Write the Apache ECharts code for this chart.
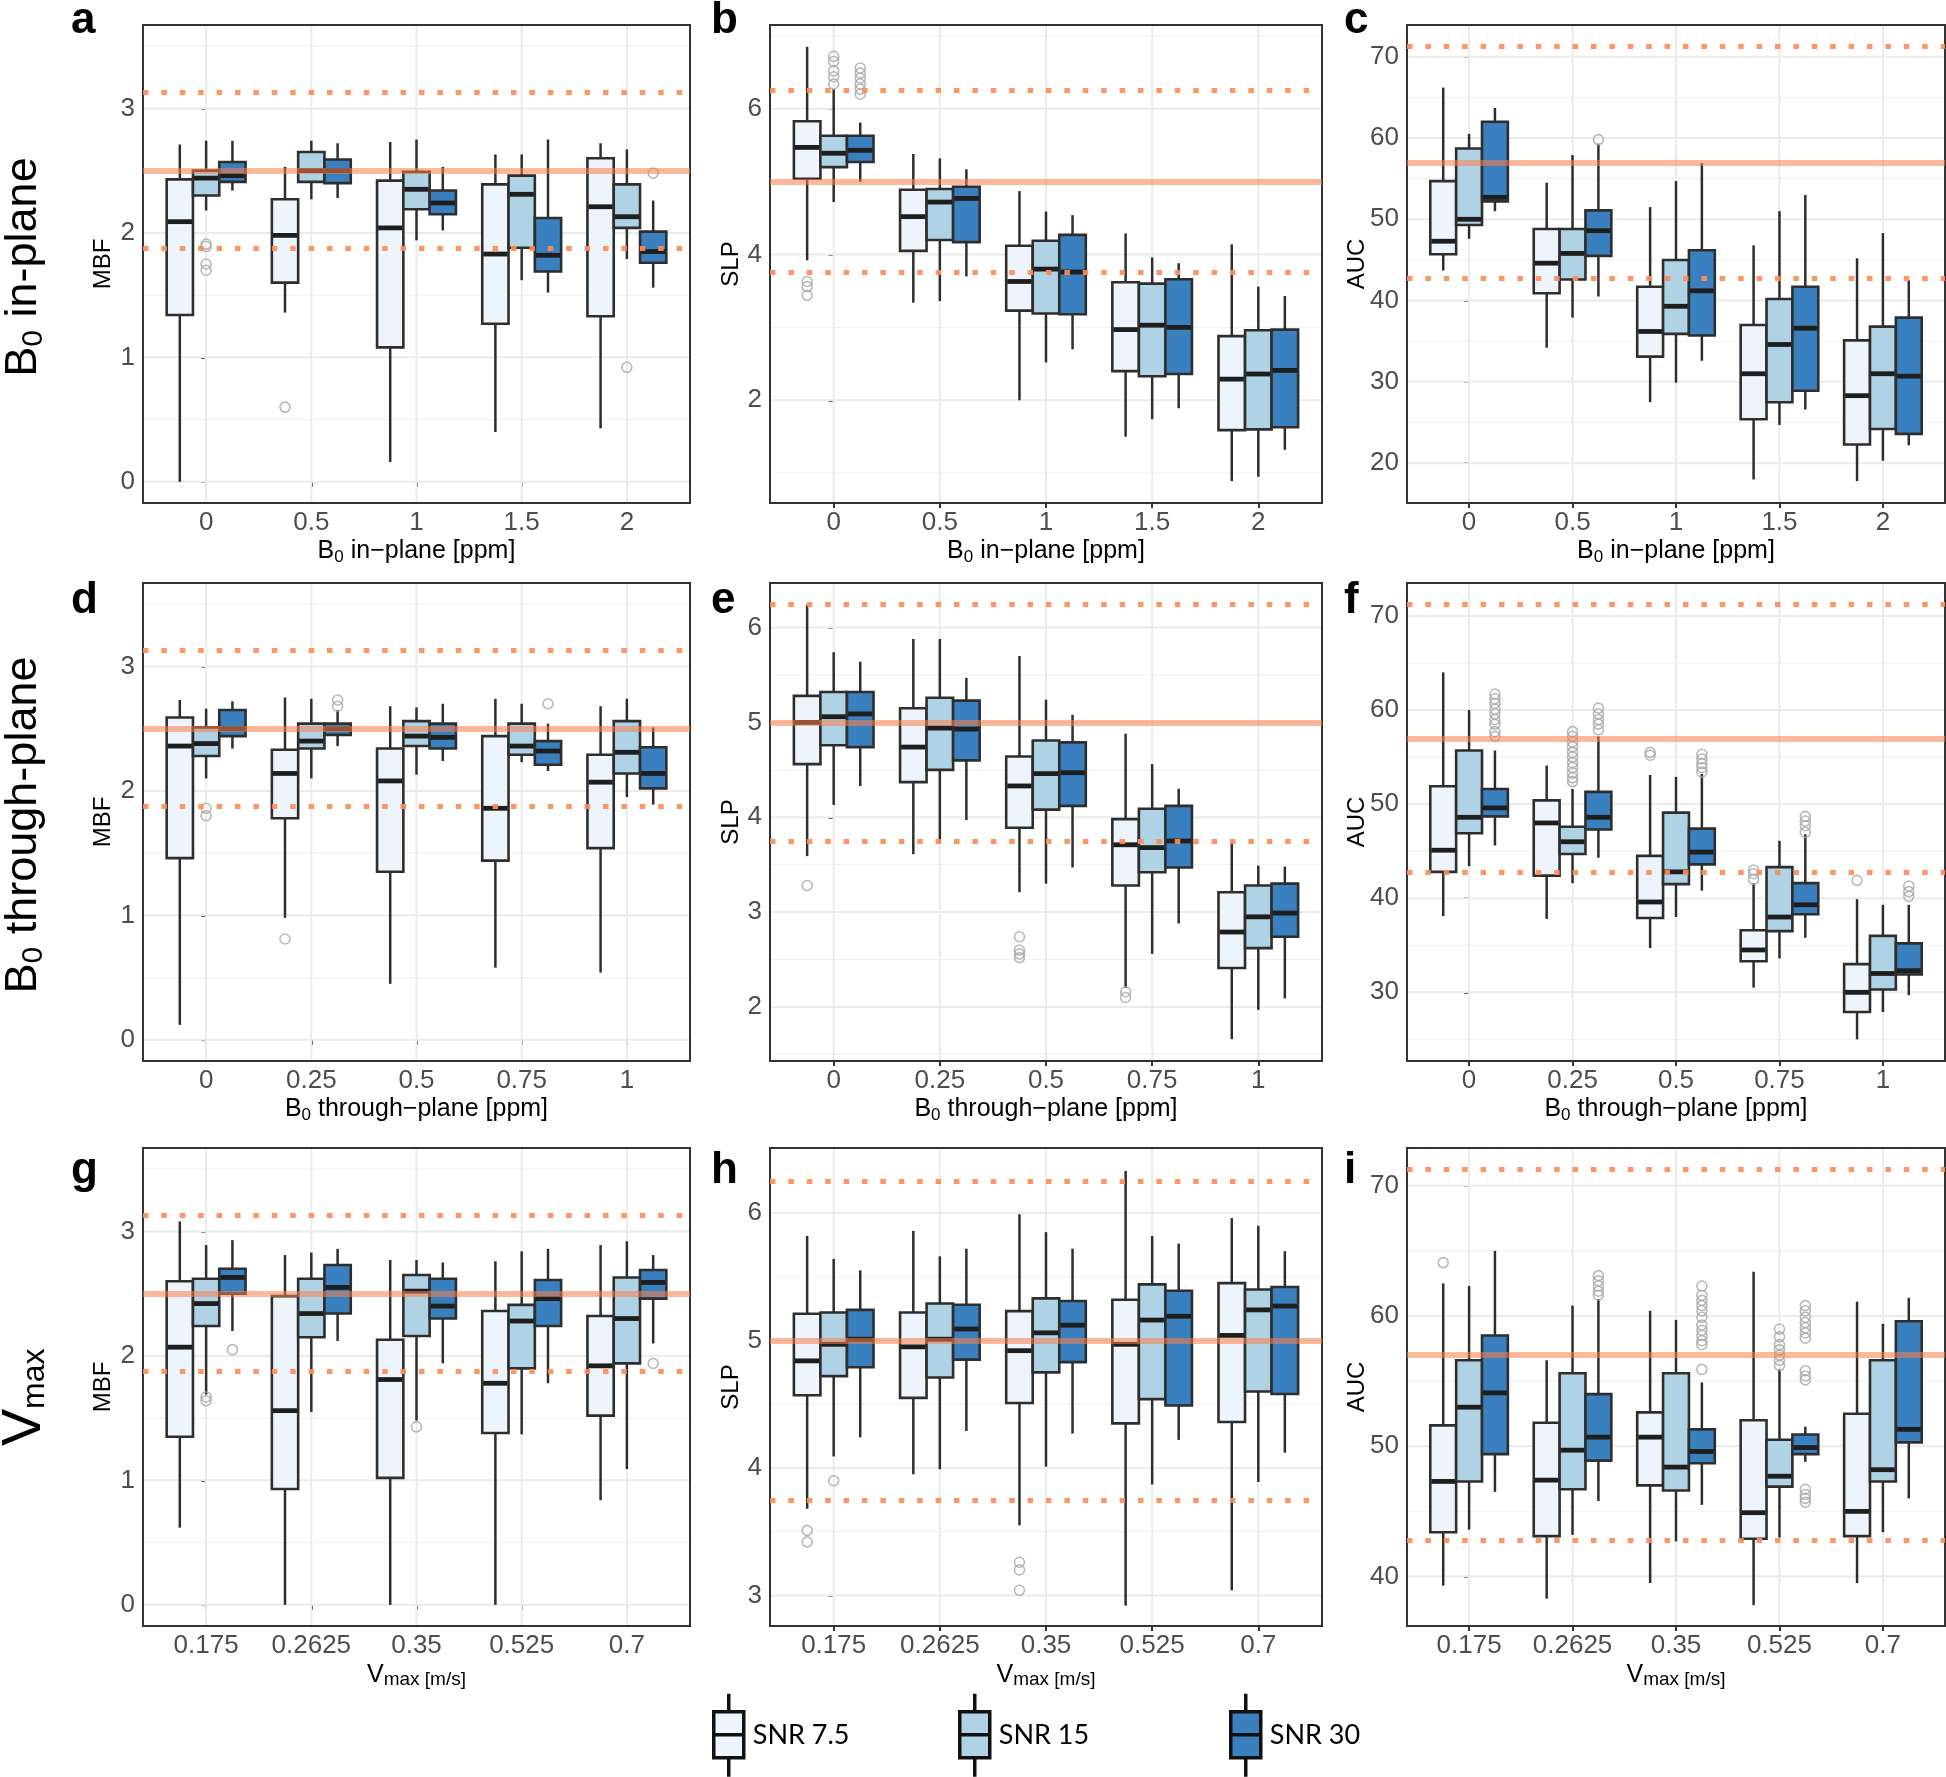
<!DOCTYPE html>
<html><head><meta charset="utf-8">
<script src="https://cdn.jsdelivr.net/npm/echarts@6/dist/echarts.min.js"></script>
<style>html,body{margin:0;padding:0;background:#fff}#c{width:1946px;height:1777px}</style>
</head><body><div id="c"></div>
<script>
// ---------- categories / tick labels ----------
const SNR = ['SNR 7.5', 'SNR 15', 'SNR 30'];
const inPlaneLabels = ['0', '0.5', '1', '1.5', '2'];
const throughLabels = ['0', '0.25', '0.5', '0.75', '1'];
const vmaxLabels = ['0.175', '0.2625', '0.35', '0.525', '0.7'];
const panelLetters = ['a', 'b', 'c', 'd', 'e', 'f', 'g', 'h', 'i'];

const mbfTicks = [0, 1, 2, 3], mbfMinor = [0.5, 1.5, 2.5, 3.5];
const slpTicks1 = [2, 4, 6], slpMinor1 = [1, 3, 5, 7];
const slpTicks2 = [2, 3, 4, 5, 6], slpMinor2 = [1.5, 2.5, 3.5, 4.5, 5.5];
const slpTicks3 = [3, 4, 5, 6], slpMinor3 = [3.5, 4.5, 5.5];
const aucTicks1 = [20, 30, 40, 50, 60, 70], aucMinor1 = [25, 35, 45, 55, 65];
const aucTicks2 = [30, 40, 50, 60, 70], aucMinor2 = [25, 35, 45, 55, 65];
const aucTicks3 = [40, 50, 60, 70], aucMinor3 = [45, 55, 65];

// reference values: true value, +25%, -25%
const mbfRef = [2.5, 3.125, 1.875];
const slpRef = [5, 6.25, 3.75];
const aucRef = [57, 71.25, 42.75];

// ---------- box data: [category index, lower whisker, Q1, median, Q3, upper whisker] ----------
// a: MBF, B0 in-plane
const aBox75 = [[0,0.00,1.34,2.09,2.43,2.71],[1,1.36,1.60,1.98,2.27,2.53],[2,0.16,1.08,2.04,2.42,2.73],[3,0.40,1.27,1.83,2.39,2.63],[4,0.43,1.33,2.21,2.60,2.72]];
const aBox15 = [[0,2.18,2.30,2.44,2.50,2.74],[1,2.27,2.41,2.50,2.65,2.74],[2,1.94,2.19,2.35,2.49,2.75],[3,1.62,1.88,2.31,2.46,2.63],[4,1.79,2.04,2.13,2.39,2.67]];
const aBox30 = [[0,2.34,2.41,2.46,2.57,2.74],[1,2.28,2.40,2.50,2.59,2.72],[2,2.02,2.15,2.24,2.34,2.53],[3,1.52,1.69,1.82,2.12,2.75],[4,1.56,1.76,1.85,2.01,2.26]];
const aOut75 = [[1,0.60]];
const aOut15 = [[0,1.91],[0,1.89],[0,1.75],[0,1.70],[4,0.92]];
const aOut30 = [[4,2.48]];
// b: SLP, B0 in-plane
const bBox75 = [[0,3.92,5.04,5.47,5.83,6.85],[1,3.34,4.05,4.52,4.89,5.38],[2,2.00,3.23,3.63,4.12,4.87],[3,1.50,2.40,2.97,3.62,4.29],[4,0.89,1.59,2.29,2.88,4.14]];
const bBox15 = [[0,4.72,5.20,5.39,5.63,6.27],[1,3.36,4.20,4.72,4.90,5.32],[2,2.52,3.19,3.80,4.19,4.59],[3,1.74,2.33,3.03,3.60,3.96],[4,0.95,1.60,2.36,2.96,3.56]];
const bBox30 = [[0,5.00,5.27,5.43,5.63,5.81],[1,3.70,4.17,4.77,4.93,5.17],[2,2.70,3.18,3.76,4.27,4.54],[3,1.89,2.36,3.00,3.66,3.88],[4,1.32,1.63,2.41,2.97,3.43]];
const bOut75 = [[0,3.63],[0,3.56],[0,3.44]];
const bOut15 = [[0,6.72],[0,6.65],[0,6.52],[0,6.44],[0,6.34]];
const bOut30 = [[0,6.56],[0,6.49],[0,6.42],[0,6.34],[0,6.27],[0,6.20]];
// c: AUC, B0 in-plane
const cBox75 = [[0,43.7,45.7,47.3,54.7,66.2],[1,34.2,40.9,44.6,48.8,54.5],[2,27.5,33.1,36.2,41.7,51.5],[3,18.0,25.4,31.0,37.0,46.8],[4,17.8,22.3,28.3,35.1,45.2]];
const cBox15 = [[0,47.6,49.3,50.0,58.7,60.5],[1,37.9,42.6,45.8,48.8,57.9],[2,29.9,35.9,39.3,45.0,54.7],[3,24.7,27.5,34.6,40.2,51.0],[4,20.3,24.2,31.0,36.8,48.3]];
const cBox30 = [[0,51.0,52.2,52.7,62.0,63.7],[1,40.5,45.5,48.6,51.1,59.3],[2,32.6,35.7,41.2,46.2,56.9],[3,26.6,28.9,36.6,41.7,53.0],[4,22.2,23.6,30.7,37.9,42.5]];
const cOut75 = [];
const cOut15 = [];
const cOut30 = [[1,59.8]];
// d: MBF, B0 through-plane
const dBox75 = [[0,0.12,1.46,2.36,2.59,2.73],[1,0.98,1.78,2.14,2.33,2.75],[2,0.45,1.35,2.08,2.34,2.68],[3,0.58,1.44,1.86,2.44,2.74],[4,0.54,1.54,2.07,2.29,2.68]];
const dBox15 = [[0,2.10,2.28,2.38,2.51,2.66],[1,2.10,2.34,2.40,2.54,2.74],[2,2.13,2.36,2.44,2.56,2.67],[3,2.23,2.29,2.36,2.54,2.70],[4,1.95,2.14,2.31,2.56,2.74]];
const dBox30 = [[0,2.34,2.44,2.50,2.65,2.72],[1,2.36,2.45,2.50,2.54,2.65],[2,2.24,2.34,2.43,2.54,2.70],[3,2.16,2.21,2.32,2.40,2.54],[4,1.89,2.02,2.14,2.35,2.51]];
const dOut75 = [[1,0.81]];
const dOut15 = [[0,1.86],[0,1.80]];
const dOut30 = [[1,2.73],[1,2.68],[3,2.70]];
// e: SLP, B0 through-plane
const eBox75 = [[0,3.59,4.56,5.00,5.28,6.24],[1,3.61,4.37,4.74,5.15,5.88],[2,3.21,3.89,4.33,4.64,5.70],[3,2.20,3.28,3.71,3.98,4.88],[4,1.66,2.41,2.79,3.21,3.73]];
const eBox15 = [[0,4.13,4.76,5.06,5.32,5.74],[1,3.73,4.50,4.94,5.26,5.88],[2,3.30,4.08,4.46,4.81,5.24],[3,2.56,3.42,3.68,4.09,4.56],[4,1.97,2.62,2.95,3.28,3.49]];
const eBox30 = [[0,4.33,4.74,5.09,5.32,5.64],[1,3.97,4.60,4.93,5.23,5.47],[2,3.47,4.12,4.47,4.79,5.08],[3,2.88,3.47,3.75,4.12,4.30],[4,2.09,2.74,2.99,3.30,3.48]];
const eOut75 = [[0,3.28],[2,2.74],[2,2.60],[2,2.56],[2,2.52],[3,2.16],[3,2.10]];
const eOut15 = [];
const eOut30 = [];
// f: AUC, B0 through-plane
const fBox75 = [[0,38.1,42.8,45.1,51.9,64.0],[1,37.8,42.4,48.0,50.4,54.1],[2,34.7,37.9,39.6,44.5,53.1],[3,30.5,33.3,34.5,36.6,41.6],[4,25.0,27.9,30.0,33.0,39.9]];
const fBox15 = [[0,43.4,46.9,48.6,55.7,60.0],[1,41.6,44.7,46.0,47.6,51.6],[2,38.0,41.5,42.8,49.1,52.9],[3,33.6,36.5,38.0,43.3,46.1],[4,27.9,30.3,32.0,36.0,39.3]];
const fBox30 = [[0,45.6,48.7,49.6,51.6,55.7],[1,44.3,47.3,48.6,51.3,57.2],[2,40.8,43.6,44.9,47.4,53.2],[3,35.8,38.3,39.3,41.6,46.8],[4,29.7,31.9,32.3,35.2,39.3]];
const fOut75 = [[2,55.5],[2,55.2],[3,43.0],[3,42.6],[3,42.0],[4,41.9]];
const fOut15 = [[1,57.7],[1,57.2],[1,56.6],[1,56.1],[1,55.5],[1,55.0],[1,54.4],[1,53.9],[1,53.3],[1,52.8],[1,52.4]];
const fOut30 = [[0,61.7],[0,61.2],[0,60.7],[0,60.1],[0,59.6],[0,59.0],[0,58.5],[0,57.7],[0,57.2],[1,60.2],[1,59.6],[1,59.0],[1,58.5],[1,57.9],[2,55.3],[2,54.8],[2,54.3],[2,53.9],[2,53.4],[3,48.7],[3,48.2],[3,47.7],[3,47.0],[4,41.3],[4,40.7],[4,40.2]];
// g: MBF, Vmax
const gBox75 = [[0,0.62,1.35,2.07,2.60,3.08],[1,0.00,0.93,1.56,2.48,2.81],[2,0.00,1.02,1.81,2.13,2.77],[3,0.00,1.38,1.78,2.36,2.76],[4,0.84,1.52,1.92,2.32,2.89]];
const gBox15 = [[0,1.69,2.24,2.42,2.62,2.89],[1,1.55,2.15,2.34,2.62,2.83],[2,1.48,2.16,2.52,2.65,2.77],[3,1.37,1.90,2.28,2.41,2.84],[4,1.09,1.94,2.30,2.63,2.92]];
const gBox30 = [[0,2.20,2.50,2.63,2.70,2.93],[1,2.12,2.34,2.55,2.73,2.86],[2,1.94,2.30,2.40,2.62,2.75],[3,1.78,2.24,2.46,2.61,2.86],[4,2.10,2.46,2.59,2.69,2.81]];
const gOut75 = [];
const gOut15 = [[0,1.67],[0,1.64],[2,1.43]];
const gOut30 = [[0,2.05],[4,1.94]];
// h: SLP, Vmax
const hBox75 = [[0,3.68,4.57,4.84,5.21,5.82],[1,3.95,4.55,4.95,5.22,5.86],[2,3.55,4.51,4.92,5.23,5.99],[3,2.92,4.35,4.97,5.32,6.33],[4,3.04,4.36,5.04,5.45,5.96]];
const hBox15 = [[0,4.09,4.72,4.97,5.22,5.64],[1,3.99,4.71,5.01,5.29,5.66],[2,4.01,4.75,5.06,5.33,5.85],[3,3.87,4.54,5.16,5.44,5.82],[4,3.89,4.60,5.24,5.40,5.90]];
const hBox30 = [[0,4.24,4.79,5.01,5.24,5.55],[1,4.29,4.85,5.09,5.28,5.72],[2,4.27,4.83,5.12,5.31,5.72],[3,4.22,4.49,5.19,5.39,5.76],[4,4.12,4.58,5.27,5.42,5.70]];
const hOut75 = [[0,3.51],[0,3.42],[2,3.26],[2,3.20],[2,3.04]];
const hOut15 = [[0,3.90]];
const hOut30 = [];
// i: AUC, Vmax
const iBox75 = [[0,39.3,43.4,47.3,51.6,62.5],[1,38.3,43.1,47.4,51.8,56.6],[2,39.5,47.0,50.7,52.6,60.4],[3,37.8,42.9,44.9,52.0,63.4],[4,39.5,43.1,45.0,52.5,61.1]];
const iBox15 = [[0,43.6,47.3,53.0,56.6,62.3],[1,43.2,46.7,49.7,55.6,60.8],[2,42.7,46.6,48.4,55.6,59.7],[3,43.0,46.9,47.7,50.5,55.9],[4,43.4,47.3,48.2,56.6,59.4]];
const iBox30 = [[0,46.5,49.4,54.1,58.5,65.0],[1,45.8,48.9,50.7,54.0,61.3],[2,45.5,48.7,49.6,51.3,54.9],[3,48.8,49.4,49.9,50.9,51.5],[4,46.0,50.3,51.3,59.6,61.4]];
const iOut75 = [[0,64.1]];
const iOut15 = [[3,59.0],[3,58.4],[3,57.8],[3,57.4],[3,57.0],[3,56.6],[3,56.2]];
const iOut30 = [[1,63.1],[1,62.7],[1,62.3],[1,61.9],[1,61.6],[2,62.3],[2,61.6],[2,61.2],[2,60.8],[2,60.4],[2,59.9],[2,59.3],[2,58.9],[2,58.5],[2,58.1],[2,57.8],[2,55.9],[3,60.8],[3,60.4],[3,59.9],[3,59.5],[3,59.1],[3,58.7],[3,58.3],[3,55.8],[3,55.4],[3,55.1],[3,46.7],[3,46.3],[3,46.0],[3,45.7]];

// ---------- axis extents ----------
const mbfRange = [-0.17, 3.67];
const slpRange1 = [0.59, 7.15], slpRange2 = [1.43, 6.47], slpRange3 = [2.76, 6.51];
const aucRange1 = [15.1, 73.9], aucRange2 = [22.7, 73.5], aucRange3 = [36.2, 72.9];

// ---------- layout & style ----------
const F = '"Liberation Sans", Arial, Helvetica, sans-serif';
const FILLS = ['#EDF4FB', '#AFD2E4', '#3A80BE'];
const OFFS = [-0.25, 0, 0.25];
const BOX_W = 0.25;
const X_MIN = -0.6, X_MAX = 4.6;
const EDGE = '#2E2E2E';
const colLeft = [143, 770, 1407];
const colWidth = [547, 552, 538];
const rowTop = [25, 583, 1148];
const rowHeight = 478;
const yNameGap = [28, 27, 38];
const xNameGap = [33, 33, 35];
const letterX = [71, 711, 1344];
const letterY = [21, 601, 1171];
const legendLeft = [712, 958, 1229];

const inName = '{t|B}{s|0}{t| in\u2212plane [ppm]}';
const thName = '{t|B}{s|0}{t| through\u2212plane [ppm]}';
const vName = '{v|V}{w|max [m/s]}';
const richB = {
  t: {fontSize: 25, lineHeight: 30, color: '#000', fontFamily: F},
  s: {fontSize: 17, lineHeight: 14, verticalAlign: 'bottom', color: '#000', fontFamily: F}
};
const richV = {
  v: {fontSize: 25, lineHeight: 28, color: '#000', fontFamily: F},
  w: {fontSize: 19, lineHeight: 22, verticalAlign: 'bottom', color: '#000', fontFamily: F}
};

const panels = [
  {r:0,c:0,boxes:[aBox75,aBox15,aBox30],outs:[aOut75,aOut15,aOut30],cats:inPlaneLabels,xName:inName,yName:'MBF',range:mbfRange,ticks:mbfTicks,minor:mbfMinor,ref:mbfRef},
  {r:0,c:1,boxes:[bBox75,bBox15,bBox30],outs:[bOut75,bOut15,bOut30],cats:inPlaneLabels,xName:inName,yName:'SLP',range:slpRange1,ticks:slpTicks1,minor:slpMinor1,ref:slpRef},
  {r:0,c:2,boxes:[cBox75,cBox15,cBox30],outs:[cOut75,cOut15,cOut30],cats:inPlaneLabels,xName:inName,yName:'AUC',range:aucRange1,ticks:aucTicks1,minor:aucMinor1,ref:aucRef},
  {r:1,c:0,boxes:[dBox75,dBox15,dBox30],outs:[dOut75,dOut15,dOut30],cats:throughLabels,xName:thName,yName:'MBF',range:mbfRange,ticks:mbfTicks,minor:mbfMinor,ref:mbfRef},
  {r:1,c:1,boxes:[eBox75,eBox15,eBox30],outs:[eOut75,eOut15,eOut30],cats:throughLabels,xName:thName,yName:'SLP',range:slpRange2,ticks:slpTicks2,minor:slpMinor2,ref:slpRef},
  {r:1,c:2,boxes:[fBox75,fBox15,fBox30],outs:[fOut75,fOut15,fOut30],cats:throughLabels,xName:thName,yName:'AUC',range:aucRange2,ticks:aucTicks2,minor:aucMinor2,ref:aucRef},
  {r:2,c:0,boxes:[gBox75,gBox15,gBox30],outs:[gOut75,gOut15,gOut30],cats:vmaxLabels,xName:vName,yName:'MBF',range:mbfRange,ticks:mbfTicks,minor:mbfMinor,ref:mbfRef},
  {r:2,c:1,boxes:[hBox75,hBox15,hBox30],outs:[hOut75,hOut15,hOut30],cats:vmaxLabels,xName:vName,yName:'SLP',range:slpRange3,ticks:slpTicks3,minor:slpMinor3,ref:slpRef},
  {r:2,c:2,boxes:[iBox75,iBox15,iBox30],outs:[iOut75,iOut15,iOut30],cats:vmaxLabels,xName:vName,yName:'AUC',range:aucRange3,ticks:aucTicks3,minor:aucMinor3,ref:aucRef}
];

function makeBoxRender(off, fill) {
  return function (params, api) {
    const c = api.value(0) + off;
    const half = api.size([BOX_W / 2, 0])[0];
    const lo = api.coord([c, api.value(1)]);
    const q1 = api.coord([c, api.value(2)]);
    const md = api.coord([c, api.value(3)]);
    const q3 = api.coord([c, api.value(4)]);
    const hi = api.coord([c, api.value(5)]);
    const x = md[0];
    return {type: 'group', children: [
      {type: 'line', shape: {x1: x, y1: hi[1], x2: x, y2: q3[1]}, style: {stroke: EDGE, lineWidth: 2.5}},
      {type: 'line', shape: {x1: x, y1: q1[1], x2: x, y2: lo[1]}, style: {stroke: EDGE, lineWidth: 2.5}},
      {type: 'rect', shape: {x: x - half, y: q3[1], width: 2 * half, height: q1[1] - q3[1]}, style: {fill: fill, stroke: EDGE, lineWidth: 2.6}},
      {type: 'line', shape: {x1: x - half + 1, y1: md[1], x2: x + half - 1, y2: md[1]}, style: {stroke: '#1E1E1E', lineWidth: 4.8}}
    ]};
  };
}

const option = {animation: false, backgroundColor: '#fff', grid: [], xAxis: [], yAxis: [], series: [], legend: [], graphic: []};

panels.forEach((p, i) => {
  const idx = p.cats.map((_, k) => k);
  option.grid.push({left: colLeft[p.c], top: rowTop[p.r], width: colWidth[p.c], height: rowHeight,
    show: true, backgroundColor: '#fff', borderColor: '#333', borderWidth: 2, containLabel: false, outerBoundsMode: 'none'});
  option.xAxis.push({type: 'value', gridIndex: i, min: X_MIN, max: X_MAX,
    splitLine: {show: false}, axisLine: {show: false},
    axisTick: {show: true, customValues: idx, length: 5, lineStyle: {color: '#333', width: 2}},
    axisLabel: {customValues: idx, formatter: v => p.cats[Math.round(v)], color: '#4D4D4D', fontSize: 26, fontFamily: F, margin: 7},
    name: p.xName, nameLocation: 'middle', nameGap: xNameGap[p.r], nameMoveOverlap: false,
    nameTextStyle: {rich: p.r === 2 ? richV : richB}});
  option.yAxis.push({type: 'value', gridIndex: i, min: p.range[0], max: p.range[1],
    splitLine: {show: false}, axisLine: {show: false},
    axisTick: {show: true, customValues: p.ticks, length: 5, lineStyle: {color: '#333', width: 2}},
    axisLabel: {customValues: p.ticks, color: '#4D4D4D', fontSize: 26, fontFamily: F, margin: 8},
    name: p.yName, nameLocation: 'middle', nameGap: yNameGap[p.c], nameMoveOverlap: false,
    nameTextStyle: {color: '#000', fontSize: 24, fontFamily: F}});
  // horizontal grid lines
  option.series.push({type: 'custom', name: 'hgrid' + i, xAxisIndex: i, yAxisIndex: i, z: 1, silent: true,
    data: p.ticks.map(v => [v, 1]).concat(p.minor.map(v => [v, 0])),
    renderItem: (params, api) => {
      const v = api.value(0), mj = api.value(1);
      const a = api.coord([X_MIN, v]), b = api.coord([X_MAX, v]);
      return {type: 'line', shape: {x1: a[0] + 1, y1: a[1], x2: b[0] - 1, y2: b[1]},
        style: {stroke: mj ? '#EBEBEB' : '#F2F2F2', lineWidth: mj ? 2 : 1.2}};
    }});
  // vertical grid lines
  option.series.push({type: 'custom', name: 'vgrid' + i, xAxisIndex: i, yAxisIndex: i, z: 1, silent: true,
    data: idx.map(k => [k, 0]),
    renderItem: (params, api) => {
      const k = api.value(0);
      const a = api.coord([k, p.range[0]]), b = api.coord([k, p.range[1]]);
      return {type: 'line', shape: {x1: a[0], y1: a[1] - 1, x2: b[0], y2: b[1] + 1},
        style: {stroke: '#EBEBEB', lineWidth: 2}};
    }});
  // boxes
  p.boxes.forEach((bx, s) => {
    const ser = {type: 'custom', name: SNR[s], xAxisIndex: i, yAxisIndex: i, z: 3, silent: true,
      encode: {x: 0, y: [1, 2, 3, 4, 5]}, data: bx, renderItem: makeBoxRender(OFFS[s], FILLS[s]),
      itemStyle: {color: FILLS[s]}};
    if (s === 0) {
      ser.markLine = {silent: true, symbol: ['none', 'none'], label: {show: false}, animation: false, z: 5,
        emphasis: {disabled: true},
        data: [
          {yAxis: p.ref[0], lineStyle: {color: 'rgba(250,128,75,0.55)', width: 6, type: 'solid'}},
          {yAxis: p.ref[1], lineStyle: {color: 'rgba(252,141,89,0.92)', width: 5, type: [5.5, 12.9]}},
          {yAxis: p.ref[2], lineStyle: {color: 'rgba(252,141,89,0.92)', width: 5, type: [5.5, 12.9]}}
        ]};
    }
    option.series.push(ser);
  });
  // outliers
  p.outs.forEach((ot, s) => {
    option.series.push({type: 'scatter', name: SNR[s], xAxisIndex: i, yAxisIndex: i, z: 4, silent: true,
      symbol: 'circle', symbolSize: 10,
      itemStyle: {color: 'rgba(0,0,0,0)', borderColor: '#A8A8A8', borderWidth: 1.6},
      data: ot.map(([c, v]) => [c + OFFS[s], v])});
  });
  // panel letter
  option.graphic.push({type: 'text', x: letterX[p.c], y: letterY[p.r], silent: true,
    style: {text: panelLetters[i], fontSize: 44, fontWeight: 'bold', fontFamily: F, fill: '#000', align: 'left', verticalAlign: 'middle'}});
});

// row labels
const rowRich = {
  t: {fontSize: 45, lineHeight: 50, fontFamily: F, fill: '#000', color: '#000'},
  s: {fontSize: 30, lineHeight: 26, verticalAlign: 'bottom', fontFamily: F, fill: '#000', color: '#000'}
};
option.graphic.push({type: 'text', x: 24, y: 267, rotation: Math.PI / 2, silent: true,
  style: {text: '{t|B}{s|0}{t| in-plane}', rich: rowRich, align: 'center', verticalAlign: 'middle', fill: '#000'}});
option.graphic.push({type: 'text', x: 24, y: 825, rotation: Math.PI / 2, silent: true,
  style: {text: '{t|B}{s|0}{t| through-plane}', rich: rowRich, align: 'center', verticalAlign: 'middle', fill: '#000'}});
option.graphic.push({type: 'text', x: 25, y: 1446, rotation: Math.PI / 2, silent: true,
  style: {text: 'V', fontSize: 56, fontFamily: F, fill: '#000', align: 'left', verticalAlign: 'middle'}});
option.graphic.push({type: 'text', x: 35, y: 1409, rotation: Math.PI / 2, silent: true,
  style: {text: 'max', fontSize: 32, fontFamily: F, fill: '#000', align: 'left', verticalAlign: 'middle'}});

// legends
const boxIcon = 'path://M15,0L15,18M0,18L30,18L30,64L0,64ZM0,41L30,41M15,64L15,83';
SNR.forEach((name, k) => {
  option.legend.push({
    data: [{name: name, icon: boxIcon, itemStyle: {color: FILLS[k], borderColor: '#111', borderWidth: 3.5}}],
    left: legendLeft[k], top: 1692, itemWidth: 30, itemHeight: 83, padding: 0, itemGap: 0, selectedMode: false,
    textStyle: {fontFamily: 'Lato, "Open Sans", sans-serif', fontSize: 27, color: '#000', padding: [0, 0, 0, 4]}
  });
});

const chart = echarts.init(document.getElementById('c'), null, {renderer: 'canvas'});
chart.setOption(option);
</script></body></html>
